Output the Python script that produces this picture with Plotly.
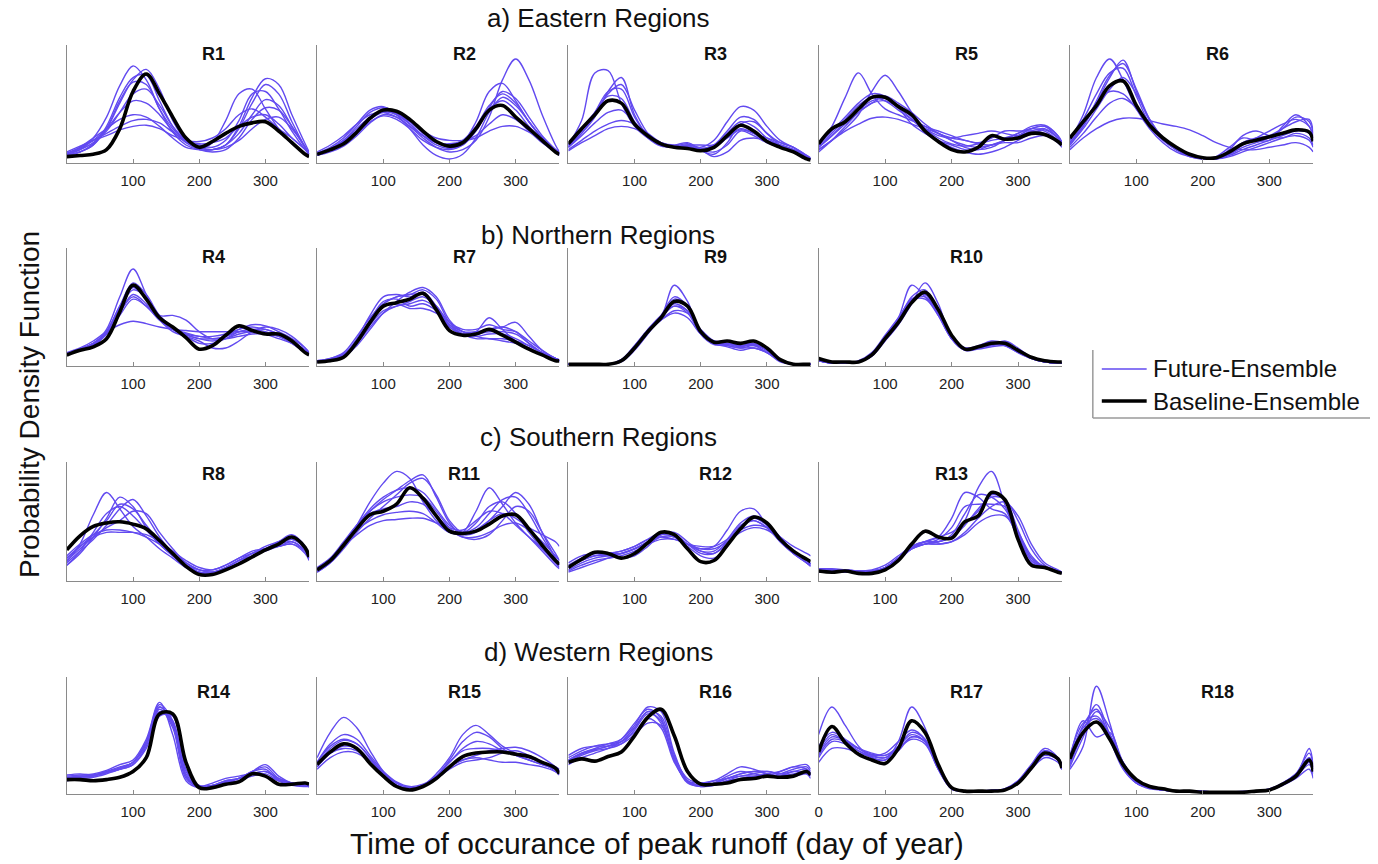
import plotly.graph_objects as go

W, H = 1378, 864

# ---------------- data (y in % of panel height) ----------------
DAYS = [0, 20, 40, 60, 80, 100, 120, 140, 160, 180, 200, 220, 240, 260, 280, 300, 320, 340, 360, 366]
TICK_DAYS = [100, 200, 300]
TICK_DAYS_R17 = [0, 100, 200, 300]
GROUP_TITLES = ["a) Eastern Regions", "b) Northern Regions", "c) Southern Regions", "d) Western Regions"]
X_TITLE = "Time of occurance of peak runoff (day of year)"
Y_TITLE = "Probability Density Function"
LEGEND_LABELS = ["Future-Ensemble", "Baseline-Ensemble"]

R1_BASE = [4, 5, 6, 10, 28, 60, 75, 58, 38, 20, 12, 17, 24, 30, 33, 34, 26, 16, 6, 4]
R1_FUT = [
    [6, 10, 20, 38, 65, 82, 70, 45, 25, 14, 10, 10, 14, 30, 55, 71, 66, 40, 15, 8],
    [5, 8, 15, 28, 50, 70, 79, 62, 35, 18, 11, 16, 35, 58, 62, 45, 28, 15, 6, 4],
    [5, 8, 14, 28, 52, 68, 66, 45, 28, 18, 14, 12, 18, 35, 58, 60, 45, 26, 10, 6],
    [6, 12, 20, 28, 36, 40, 38, 30, 20, 12, 10, 10, 14, 24, 40, 53, 48, 30, 12, 6],
    [7, 12, 18, 24, 30, 35, 36, 33, 25, 18, 15, 16, 20, 30, 38, 40, 32, 20, 10, 6],
    [8, 13, 18, 22, 27, 30, 31, 28, 22, 18, 17, 20, 28, 40, 45, 38, 28, 20, 10, 6],
    [5, 8, 14, 30, 55, 72, 74, 52, 30, 17, 12, 10, 12, 18, 28, 36, 38, 28, 12, 6],
    [6, 10, 16, 26, 42, 58, 62, 48, 30, 18, 12, 10, 14, 28, 50, 66, 58, 34, 12, 6],
    [6, 11, 18, 28, 42, 52, 50, 40, 26, 16, 10, 8, 10, 20, 36, 46, 44, 30, 12, 6],
]
R2_BASE = [6, 10, 15, 25, 37, 44, 43, 36, 26, 17, 13, 16, 28, 44, 48, 38, 28, 18, 8, 6]
R2_FUT = [
    [5, 8, 13, 22, 33, 40, 38, 30, 20, 12, 8, 10, 18, 38, 70, 88, 70, 40, 14, 8],
    [6, 10, 18, 30, 42, 46, 42, 32, 22, 14, 11, 16, 34, 60, 67, 52, 34, 20, 10, 7],
    [7, 12, 20, 32, 44, 47, 40, 28, 14, 5, 2, 6, 20, 42, 55, 48, 34, 20, 9, 6],
    [8, 14, 22, 32, 40, 42, 38, 30, 22, 16, 15, 17, 22, 32, 40, 36, 26, 16, 8, 6],
    [6, 10, 17, 26, 36, 42, 41, 34, 26, 20, 18, 18, 20, 26, 30, 30, 25, 18, 10, 7],
    [6, 11, 18, 28, 38, 43, 40, 32, 22, 16, 14, 18, 30, 48, 58, 50, 34, 20, 10, 6],
    [5, 9, 15, 24, 34, 39, 36, 28, 18, 12, 10, 14, 28, 45, 52, 44, 30, 18, 8, 5],
    [6, 10, 16, 26, 38, 44, 42, 34, 24, 16, 12, 14, 26, 46, 60, 54, 38, 22, 10, 6],
]
R3_BASE = [15, 28, 40, 52, 50, 32, 22, 15, 12, 11, 9, 12, 22, 31, 26, 17, 12, 8, 2, 1]
R3_FUT = [
    [14, 35, 76, 78, 50, 30, 20, 14, 12, 13, 10, 12, 20, 28, 24, 16, 12, 9, 3, 2],
    [12, 24, 38, 60, 72, 40, 22, 14, 12, 12, 10, 14, 26, 38, 36, 24, 16, 12, 4, 2],
    [13, 26, 42, 60, 62, 38, 22, 14, 12, 14, 12, 18, 34, 47, 44, 30, 18, 12, 5, 2],
    [10, 18, 26, 32, 35, 32, 24, 16, 13, 14, 14, 14, 20, 27, 24, 20, 16, 12, 5, 3],
    [12, 22, 33, 42, 44, 33, 22, 15, 13, 15, 10, 8, 14, 26, 22, 16, 14, 10, 4, 2],
    [14, 28, 42, 56, 54, 34, 20, 13, 12, 12, 9, 6, 16, 32, 34, 24, 14, 9, 3, 2],
    [9, 16, 22, 28, 30, 28, 22, 16, 14, 16, 10, 4, 8, 18, 20, 18, 14, 10, 4, 2],
    [12, 24, 40, 58, 66, 44, 24, 14, 12, 13, 11, 14, 24, 34, 30, 20, 14, 10, 4, 2],
]
R5_BASE = [15, 28, 34, 45, 55, 55, 47, 40, 26, 17, 10, 8, 12, 22, 19, 20, 24, 23, 17, 14]
R5_FUT = [
    [14, 30, 55, 76, 58, 45, 40, 35, 30, 24, 20, 18, 15, 14, 18, 22, 28, 30, 20, 16],
    [10, 18, 28, 40, 60, 74, 60, 42, 28, 20, 15, 13, 15, 18, 20, 24, 30, 31, 22, 16],
    [12, 22, 34, 44, 52, 54, 48, 38, 28, 22, 20, 22, 24, 26, 24, 22, 26, 28, 20, 16],
    [10, 18, 26, 32, 37, 38, 36, 32, 28, 24, 18, 12, 10, 12, 18, 24, 28, 26, 18, 14],
    [8, 18, 30, 42, 50, 52, 46, 36, 26, 18, 12, 8, 6, 8, 12, 18, 24, 27, 20, 16],
    [12, 24, 36, 48, 55, 52, 44, 36, 30, 26, 22, 18, 16, 20, 26, 26, 26, 24, 18, 14],
    [14, 26, 38, 50, 58, 56, 46, 32, 24, 18, 14, 10, 10, 14, 16, 16, 20, 22, 16, 12],
    [12, 22, 32, 42, 50, 56, 50, 42, 32, 24, 18, 14, 12, 14, 18, 22, 28, 30, 22, 16],
]
R6_BASE = [20, 34, 48, 65, 69, 48, 31, 20, 12, 6, 3, 3, 8, 15, 18, 21, 24, 27, 25, 17]
R6_FUT = [
    [18, 40, 72, 88, 70, 45, 28, 16, 8, 4, 2, 2, 6, 12, 16, 20, 28, 38, 34, 22],
    [16, 30, 50, 72, 87, 60, 35, 20, 10, 5, 3, 3, 10, 22, 26, 22, 20, 24, 20, 14],
    [14, 28, 45, 62, 72, 58, 36, 20, 10, 4, 2, 4, 12, 20, 18, 18, 30, 40, 30, 20],
    [10, 20, 28, 34, 37, 37, 35, 32, 30, 27, 22, 16, 12, 10, 10, 12, 14, 16, 12, 8],
    [16, 32, 50, 60, 58, 45, 30, 18, 10, 5, 2, 2, 5, 10, 14, 18, 22, 26, 24, 18],
    [18, 36, 58, 76, 80, 56, 32, 18, 10, 5, 3, 3, 8, 16, 20, 22, 28, 34, 36, 24],
    [12, 24, 38, 50, 54, 46, 32, 20, 12, 6, 3, 2, 4, 8, 12, 16, 20, 22, 18, 12],
    [14, 30, 52, 74, 84, 62, 36, 20, 10, 5, 2, 2, 6, 14, 20, 26, 32, 36, 30, 20],
]
R4_BASE = [8, 12, 15, 22, 45, 68, 56, 40, 32, 23, 13, 16, 25, 33, 29, 26, 26, 20, 10, 8]
R4_FUT = [
    [8, 12, 17, 30, 58, 82, 60, 40, 30, 25, 22, 20, 22, 28, 30, 28, 24, 18, 10, 8],
    [9, 13, 18, 28, 48, 64, 58, 42, 42, 38, 28, 22, 24, 30, 32, 30, 26, 20, 12, 9],
    [10, 14, 20, 28, 34, 37, 35, 32, 30, 29, 28, 28, 28, 28, 28, 27, 25, 20, 12, 9],
    [9, 13, 18, 26, 44, 60, 52, 38, 28, 24, 20, 14, 14, 20, 28, 32, 30, 24, 14, 10],
    [8, 12, 16, 26, 45, 58, 50, 38, 30, 26, 24, 24, 26, 30, 34, 33, 28, 22, 14, 10],
    [9, 13, 18, 26, 42, 56, 50, 38, 30, 27, 24, 22, 22, 24, 26, 26, 24, 20, 12, 9],
    [8, 12, 16, 28, 50, 66, 56, 40, 30, 24, 18, 18, 22, 26, 28, 26, 22, 18, 10, 8],
    [9, 13, 18, 28, 50, 70, 60, 42, 32, 26, 22, 22, 24, 28, 30, 30, 26, 20, 12, 9],
]
R7_BASE = [2, 3, 6, 19, 36, 50, 53, 56, 61, 47, 29, 25, 26, 30, 25, 19, 13, 8, 3, 3]
R7_FUT = [
    [2, 4, 8, 22, 42, 58, 60, 58, 62, 50, 32, 26, 28, 40, 30, 20, 14, 8, 4, 3],
    [3, 5, 10, 24, 40, 52, 58, 60, 64, 56, 36, 28, 28, 30, 32, 36, 24, 12, 5, 4],
    [2, 4, 8, 18, 32, 44, 50, 52, 55, 48, 34, 26, 22, 22, 20, 18, 14, 8, 4, 3],
    [2, 3, 7, 20, 38, 54, 56, 50, 52, 46, 32, 26, 24, 26, 26, 22, 16, 10, 5, 3],
    [3, 5, 9, 20, 34, 46, 50, 54, 58, 50, 36, 30, 30, 34, 30, 28, 20, 12, 5, 4],
    [2, 4, 8, 20, 36, 50, 52, 48, 48, 44, 34, 28, 24, 22, 22, 20, 16, 10, 5, 3],
    [2, 3, 6, 16, 30, 44, 54, 62, 66, 58, 38, 28, 26, 28, 28, 26, 18, 10, 4, 3],
    [2, 4, 8, 20, 38, 52, 58, 60, 60, 50, 34, 26, 26, 30, 32, 28, 18, 10, 5, 3],
]
R9_BASE = [0, 0, 0, 0, 3, 14, 28, 40, 54, 50, 28, 19, 20, 18, 20, 14, 4, 0, 0, 0]
R9_FUT = [
    [0, 0, 0, 0, 4, 15, 28, 40, 68, 54, 26, 18, 18, 16, 18, 12, 3, 0, 0, 0],
    [0, 0, 0, 0, 3, 16, 30, 42, 50, 44, 26, 18, 16, 14, 16, 12, 4, 0, 0, 0],
    [0, 0, 0, 0, 3, 14, 27, 38, 46, 44, 30, 20, 18, 16, 16, 10, 3, 0, 0, 0],
    [0, 0, 0, 0, 4, 16, 29, 40, 56, 50, 28, 18, 16, 14, 14, 10, 2, 0, 0, 0],
    [0, 0, 0, 0, 3, 15, 28, 38, 44, 40, 26, 20, 20, 18, 18, 14, 4, 0, 0, 0],
    [0, 0, 0, 0, 2, 12, 26, 40, 52, 46, 28, 18, 15, 12, 14, 10, 3, 0, 0, 0],
    [0, 0, 0, 0, 3, 14, 28, 42, 58, 50, 26, 17, 17, 15, 17, 12, 3, 0, 0, 0],
    [0, 0, 0, 0, 3, 15, 28, 40, 50, 46, 28, 19, 18, 16, 17, 12, 3, 0, 0, 0],
]
R10_BASE = [5, 2, 2, 2, 8, 22, 36, 53, 62, 47, 25, 13, 15, 18, 18, 12, 6, 3, 2, 2]
R10_FUT = [
    [3, 1, 1, 2, 9, 24, 40, 68, 58, 42, 22, 13, 14, 17, 16, 10, 5, 2, 1, 1],
    [3, 1, 1, 2, 7, 20, 34, 52, 70, 52, 22, 12, 14, 18, 16, 10, 5, 2, 1, 1],
    [3, 1, 1, 2, 8, 22, 38, 56, 58, 44, 24, 14, 16, 20, 18, 12, 6, 2, 1, 1],
    [3, 1, 1, 3, 10, 25, 40, 56, 60, 42, 22, 12, 13, 15, 16, 12, 5, 2, 1, 1],
    [3, 1, 1, 2, 8, 22, 36, 54, 62, 46, 24, 14, 15, 16, 20, 14, 6, 2, 1, 1],
    [3, 1, 1, 2, 7, 21, 37, 55, 56, 44, 25, 14, 15, 17, 17, 11, 5, 2, 1, 1],
    [3, 1, 1, 2, 8, 22, 38, 58, 64, 44, 22, 13, 14, 16, 17, 12, 5, 2, 1, 1],
]
R8_BASE = [25, 37, 45, 48, 49, 47, 43, 33, 22, 11, 4, 4, 8, 13, 19, 25, 30, 36, 27, 19]
R8_FUT = [
    [15, 30, 55, 74, 60, 45, 36, 26, 18, 10, 5, 4, 8, 14, 20, 26, 32, 38, 28, 20],
    [12, 22, 36, 52, 70, 62, 44, 30, 20, 12, 8, 8, 12, 18, 22, 26, 28, 32, 24, 18],
    [14, 24, 34, 46, 60, 68, 54, 36, 22, 12, 6, 6, 10, 16, 20, 24, 28, 30, 22, 16],
    [18, 28, 36, 40, 40, 40, 38, 32, 24, 16, 10, 8, 12, 18, 24, 26, 28, 30, 24, 18],
    [20, 30, 38, 42, 42, 40, 36, 30, 22, 14, 8, 6, 10, 16, 22, 28, 32, 36, 26, 20],
    [12, 24, 40, 56, 62, 54, 42, 30, 20, 12, 6, 4, 8, 14, 20, 26, 30, 34, 26, 18],
    [16, 26, 36, 44, 50, 58, 56, 40, 26, 14, 8, 6, 9, 14, 20, 25, 30, 34, 26, 18],
    [18, 28, 38, 50, 64, 60, 46, 32, 20, 12, 6, 6, 10, 16, 22, 26, 30, 32, 24, 18],
]
R11_BASE = [8, 16, 29, 43, 55, 58, 64, 78, 69, 54, 41, 39, 41, 47, 54, 55, 43, 29, 16, 13]
R11_FUT = [
    [6, 14, 28, 46, 66, 82, 92, 86, 66, 50, 40, 40, 58, 78, 64, 48, 36, 24, 12, 9],
    [8, 16, 30, 46, 58, 68, 76, 84, 89, 70, 48, 38, 40, 50, 62, 74, 64, 40, 18, 12],
    [10, 18, 30, 42, 50, 55, 57, 58, 56, 48, 40, 38, 42, 50, 56, 52, 44, 38, 32, 28],
    [6, 14, 26, 40, 52, 62, 72, 82, 86, 72, 50, 40, 48, 62, 66, 56, 40, 26, 14, 10],
    [8, 16, 28, 38, 46, 50, 51, 52, 52, 48, 42, 36, 36, 40, 46, 48, 42, 32, 20, 16],
    [7, 15, 28, 44, 58, 66, 70, 72, 70, 58, 44, 36, 34, 38, 50, 62, 58, 40, 22, 16],
    [9, 18, 32, 46, 56, 60, 62, 66, 64, 54, 44, 42, 50, 58, 56, 46, 36, 26, 16, 12],
    [8, 16, 30, 46, 60, 70, 76, 78, 74, 60, 46, 40, 44, 56, 68, 70, 56, 36, 18, 12],
]
R12_BASE = [10, 17, 23, 22, 18, 22, 31, 40, 38, 26, 15, 16, 29, 43, 53, 48, 34, 24, 17, 15]
R12_FUT = [
    [8, 14, 18, 20, 22, 26, 32, 38, 36, 30, 26, 28, 42, 58, 60, 46, 32, 22, 14, 12],
    [12, 18, 22, 22, 22, 26, 32, 38, 38, 30, 24, 24, 34, 48, 54, 48, 36, 24, 16, 13],
    [6, 10, 14, 18, 22, 26, 30, 34, 34, 30, 26, 26, 32, 40, 44, 42, 34, 24, 16, 13],
    [10, 16, 20, 20, 18, 20, 28, 38, 40, 32, 24, 22, 30, 44, 50, 44, 32, 22, 14, 11],
    [14, 20, 22, 22, 24, 28, 34, 36, 34, 30, 28, 28, 34, 42, 46, 44, 36, 28, 22, 20],
    [7, 12, 16, 18, 20, 24, 30, 36, 36, 28, 20, 18, 28, 44, 52, 46, 34, 22, 14, 11],
    [10, 16, 20, 22, 24, 28, 34, 40, 38, 30, 22, 22, 32, 46, 50, 44, 34, 24, 16, 13],
]
R13_BASE = [7, 6, 7, 5, 5, 8, 16, 30, 41, 36, 35, 49, 54, 74, 68, 34, 12, 10, 6, 5]
R13_FUT = [
    [8, 8, 7, 6, 7, 10, 18, 28, 32, 32, 36, 50, 78, 92, 64, 34, 14, 10, 7, 6],
    [9, 9, 8, 7, 7, 10, 18, 28, 32, 36, 52, 74, 70, 60, 56, 36, 16, 10, 7, 6],
    [8, 8, 8, 7, 8, 12, 20, 28, 32, 32, 38, 56, 72, 70, 60, 38, 16, 10, 7, 6],
    [7, 7, 7, 6, 6, 10, 18, 26, 30, 30, 32, 40, 52, 62, 66, 54, 30, 14, 8, 6],
    [8, 8, 8, 7, 7, 10, 18, 27, 30, 30, 32, 38, 48, 54, 54, 40, 20, 10, 6, 5],
    [6, 6, 6, 6, 6, 10, 18, 26, 30, 34, 44, 62, 64, 64, 62, 40, 18, 10, 7, 6],
    [8, 8, 8, 6, 6, 9, 16, 26, 32, 36, 40, 48, 58, 72, 68, 42, 18, 11, 7, 6],
    [7, 7, 7, 6, 6, 9, 16, 26, 30, 32, 36, 46, 60, 70, 68, 50, 26, 12, 7, 6],
]
R14_BASE = [11, 11, 10, 11, 13, 18, 30, 68, 68, 26, 4, 4, 7, 9, 16, 14, 7, 7, 8, 7]
R14_FUT = [
    [12, 14, 14, 18, 22, 26, 44, 76, 62, 14, 4, 6, 10, 12, 18, 20, 10, 6, 5, 5],
    [13, 14, 15, 18, 20, 24, 40, 72, 56, 12, 5, 8, 12, 14, 16, 14, 10, 8, 6, 5],
    [14, 15, 16, 19, 24, 28, 46, 78, 50, 10, 4, 6, 10, 12, 18, 22, 12, 8, 6, 5],
    [10, 12, 13, 16, 20, 26, 42, 70, 62, 18, 6, 6, 8, 12, 16, 18, 12, 8, 8, 7],
    [12, 13, 15, 17, 20, 24, 38, 66, 66, 20, 5, 5, 8, 10, 14, 16, 10, 7, 6, 6],
    [15, 16, 15, 17, 21, 26, 44, 74, 58, 14, 4, 5, 9, 12, 18, 24, 14, 8, 6, 5],
    [12, 13, 14, 17, 21, 26, 42, 74, 60, 16, 5, 6, 9, 12, 16, 18, 11, 7, 6, 5],
]
R15_BASE = [24, 35, 42, 38, 25, 14, 5, 2, 5, 12, 22, 31, 34, 35, 35, 33, 31, 26, 21, 16]
R15_FUT = [
    [30, 52, 65, 56, 36, 18, 6, 2, 6, 16, 30, 50, 58, 50, 40, 34, 30, 26, 22, 20],
    [26, 42, 50, 46, 32, 18, 8, 4, 6, 14, 28, 44, 52, 48, 38, 32, 28, 24, 20, 18],
    [22, 34, 38, 36, 28, 18, 9, 5, 7, 14, 22, 28, 32, 36, 38, 39, 36, 30, 22, 18],
    [20, 30, 35, 34, 26, 16, 8, 4, 6, 12, 20, 26, 28, 30, 34, 36, 32, 26, 18, 15],
    [24, 38, 45, 42, 30, 16, 6, 3, 6, 14, 26, 38, 44, 42, 36, 32, 28, 24, 20, 18],
    [22, 34, 40, 38, 28, 16, 6, 3, 5, 12, 22, 28, 30, 28, 26, 26, 24, 22, 18, 16],
    [26, 40, 46, 42, 30, 16, 6, 3, 6, 14, 26, 36, 38, 38, 36, 34, 30, 26, 20, 17],
]
R16_BASE = [26, 29, 27, 31, 35, 49, 65, 72, 49, 18, 7, 7, 8, 11, 12, 14, 13, 14, 18, 15]
R16_FUT = [
    [28, 34, 38, 42, 46, 58, 74, 70, 34, 10, 6, 8, 14, 18, 16, 14, 16, 20, 22, 18],
    [30, 36, 40, 42, 44, 52, 64, 56, 26, 10, 8, 10, 16, 22, 20, 16, 14, 16, 18, 15],
    [26, 32, 36, 38, 42, 54, 68, 62, 28, 8, 5, 6, 10, 14, 14, 14, 18, 22, 20, 16],
    [32, 38, 40, 40, 42, 50, 60, 58, 30, 12, 8, 10, 12, 14, 16, 18, 16, 14, 16, 14],
    [24, 30, 34, 38, 44, 56, 70, 66, 32, 10, 6, 6, 10, 12, 14, 16, 18, 22, 24, 20],
    [28, 34, 37, 40, 46, 60, 72, 64, 28, 9, 5, 7, 12, 16, 18, 16, 14, 18, 16, 12],
    [27, 33, 37, 40, 44, 56, 70, 60, 28, 9, 6, 8, 12, 16, 18, 18, 16, 18, 20, 16],
]
R17_BASE = [35, 57, 43, 33, 28, 25, 38, 62, 52, 24, 4, 1, 1, 1, 2, 8, 21, 34, 29, 21]
R17_FUT = [
    [50, 74, 58, 40, 30, 28, 44, 74, 56, 22, 3, 1, 1, 1, 2, 8, 22, 36, 30, 22],
    [34, 48, 45, 38, 33, 32, 40, 50, 44, 20, 3, 1, 1, 1, 3, 10, 24, 36, 28, 20],
    [26, 38, 38, 34, 31, 30, 38, 46, 42, 20, 4, 1, 1, 1, 2, 9, 22, 32, 28, 20],
    [40, 52, 46, 38, 32, 30, 40, 52, 46, 22, 4, 1, 1, 1, 3, 10, 24, 38, 30, 22],
    [30, 44, 42, 36, 30, 28, 36, 48, 44, 22, 4, 1, 1, 2, 3, 9, 20, 34, 30, 24],
    [36, 50, 44, 36, 32, 34, 44, 54, 46, 20, 3, 1, 1, 1, 2, 8, 20, 30, 26, 20],
    [32, 46, 44, 38, 34, 32, 38, 48, 44, 22, 4, 1, 1, 1, 2, 8, 22, 34, 28, 20],
]
R18_BASE = [29, 52, 61, 46, 24, 11, 5, 3, 1, 1, 0, 0, 0, 0, 1, 2, 7, 14, 28, 18]
R18_FUT = [
    [20, 40, 92, 60, 22, 8, 4, 2, 1, 1, 1, 0, 0, 0, 1, 2, 6, 14, 38, 22],
    [26, 58, 72, 46, 20, 8, 4, 2, 1, 1, 1, 0, 0, 0, 1, 3, 8, 16, 30, 20],
    [32, 60, 66, 50, 26, 10, 4, 2, 1, 1, 0, 0, 0, 1, 1, 3, 7, 14, 24, 16],
    [28, 62, 48, 52, 24, 8, 3, 2, 1, 1, 0, 0, 0, 0, 1, 2, 6, 12, 20, 12],
    [22, 48, 70, 56, 26, 9, 4, 2, 1, 1, 1, 0, 0, 0, 1, 2, 8, 16, 34, 24],
    [30, 56, 64, 50, 26, 10, 5, 3, 1, 1, 0, 0, 0, 0, 1, 2, 7, 14, 26, 18],
    [24, 52, 76, 50, 22, 8, 4, 2, 1, 1, 0, 0, 0, 0, 1, 2, 7, 14, 30, 20],
]

BASE = {"R1": R1_BASE, "R2": R2_BASE, "R3": R3_BASE, "R5": R5_BASE, "R6": R6_BASE,
        "R4": R4_BASE, "R7": R7_BASE, "R9": R9_BASE, "R10": R10_BASE,
        "R8": R8_BASE, "R11": R11_BASE, "R12": R12_BASE, "R13": R13_BASE,
        "R14": R14_BASE, "R15": R15_BASE, "R16": R16_BASE, "R17": R17_BASE, "R18": R18_BASE}
FUT = {"R1": R1_FUT, "R2": R2_FUT, "R3": R3_FUT, "R5": R5_FUT, "R6": R6_FUT,
       "R4": R4_FUT, "R7": R7_FUT, "R9": R9_FUT, "R10": R10_FUT,
       "R8": R8_FUT, "R11": R11_FUT, "R12": R12_FUT, "R13": R13_FUT,
       "R14": R14_FUT, "R15": R15_FUT, "R16": R16_FUT, "R17": R17_FUT, "R18": R18_FUT}
GRID = [["R1", "R2", "R3", "R5", "R6"],
        ["R4", "R7", "R9", "R10"],
        ["R8", "R11", "R12", "R13"],
        ["R14", "R15", "R16", "R17", "R18"]]

# ---------------- layout (pixels) ----------------
COLS_PX = [(63, 306), (314, 557), (566, 809), (817, 1061), (1069, 1313)]
ROWS_PX = [(45, 163), (248, 366), (462, 581), (677, 794)]
LABEL_OFF = [9, 9, 12, 15]
TITLE_Y = [18, 235, 437, 652]
TITLE_X = 596
BLUE = "rgb(98,74,240)"
AXIS_GRAY = "#8a8a8a"
FONT = "Liberation Sans, Arial, Helvetica, sans-serif"


def fx(p):
    return p / W


def fy(p):
    return 1 - p / H


fig = go.Figure()
annotations = []
shapes = []
k = 0
for r, row in enumerate(GRID):
    y0, y1 = ROWS_PX[r]
    for c, name in enumerate(row):
        k += 1
        x0, x1 = COLS_PX[c]
        xa = "x" if k == 1 else f"x{k}"
        ya = "y" if k == 1 else f"y{k}"
        for curve in FUT[name]:
            fig.add_trace(go.Scatter(x=DAYS, y=curve, mode="lines", xaxis=xa, yaxis=ya,
                                     line=dict(color=BLUE, width=1.4, shape="spline", smoothing=1.0),
                                     showlegend=False, hoverinfo="skip"))
        fig.add_trace(go.Scatter(x=DAYS, y=BASE[name], mode="lines", xaxis=xa, yaxis=ya,
                                 line=dict(color="black", width=3.6, shape="spline", smoothing=1.0),
                                 showlegend=False, hoverinfo="skip"))
        ticks = TICK_DAYS_R17 if name == "R17" else TICK_DAYS
        fig.update_layout(**{
            ("xaxis" if k == 1 else f"xaxis{k}"): dict(
                domain=[fx(x0), fx(x1)], range=[0, 366], anchor=ya,
                showline=True, linecolor=AXIS_GRAY, linewidth=1.3,
                ticks="inside", ticklen=4, tickcolor=AXIS_GRAY, tickwidth=1,
                tickvals=ticks, ticktext=[str(t) for t in ticks],
                tickfont=dict(family=FONT, size=15, color="#222"),
                ticklabelstandoff=4,
                showgrid=False, zeroline=False, fixedrange=True),
            ("yaxis" if k == 1 else f"yaxis{k}"): dict(
                domain=[fy(y1), fy(y0)], range=[-1.5, 100], anchor=xa,
                showline=True, linecolor=AXIS_GRAY, linewidth=1.3,
                showticklabels=False, ticks="", showgrid=False, zeroline=False, fixedrange=True),
        })
        annotations.append(dict(x=200 if name == "R13" else 222, xref=xa, y=fy(y0 + LABEL_OFF[r]), yref="paper",
                                text=f"<b>{name}</b>", showarrow=False, xanchor="center", yanchor="middle",
                                font=dict(family=FONT, size=18, color="#111")))

for r, t in enumerate(GROUP_TITLES):
    annotations.append(dict(x=fx(TITLE_X), y=fy(TITLE_Y[r]), xref="paper", yref="paper", text=t,
                            showarrow=False, xanchor="center", yanchor="middle",
                            font=dict(family=FONT, size=26, color="#111")))

annotations.append(dict(x=fx(655), y=fy(843), xref="paper", yref="paper", text=X_TITLE, showarrow=False,
                        xanchor="center", yanchor="middle", font=dict(family=FONT, size=30, color="#111")))
annotations.append(dict(x=fx(25), y=fy(404), xref="paper", yref="paper", text=Y_TITLE, showarrow=False,
                        textangle=-90, xanchor="center", yanchor="middle",
                        font=dict(family=FONT, size=28, color="#111")))

# legend drawn as shapes + text
shapes.append(dict(type="line", xref="paper", yref="paper", x0=fx(1092), x1=fx(1092), y0=fy(350), y1=fy(418),
                   line=dict(color="#9a9a9a", width=1.5)))
shapes.append(dict(type="line", xref="paper", yref="paper", x0=fx(1092), x1=fx(1370), y0=fy(418), y1=fy(418),
                   line=dict(color="#9a9a9a", width=1.5)))
shapes.append(dict(type="line", xref="paper", yref="paper", x0=fx(1101), x1=fx(1146), y0=fy(369), y1=fy(369),
                   line=dict(color=BLUE, width=1.5)))
shapes.append(dict(type="line", xref="paper", yref="paper", x0=fx(1101), x1=fx(1146), y0=fy(401), y1=fy(401),
                   line=dict(color="black", width=3.6)))
for lab, yy in zip(LEGEND_LABELS, [369, 401]):
    annotations.append(dict(x=fx(1150), y=fy(yy), xref="paper", yref="paper", text=lab, showarrow=False,
                            xanchor="left", yanchor="middle", font=dict(family=FONT, size=24, color="#111")))

fig.update_layout(width=W, height=H, margin=dict(l=0, r=0, t=0, b=0),
                  paper_bgcolor="white", plot_bgcolor="white",
                  annotations=annotations, shapes=shapes, showlegend=False)

fig.write_html("out.html", config={"displayModeBar": False})
